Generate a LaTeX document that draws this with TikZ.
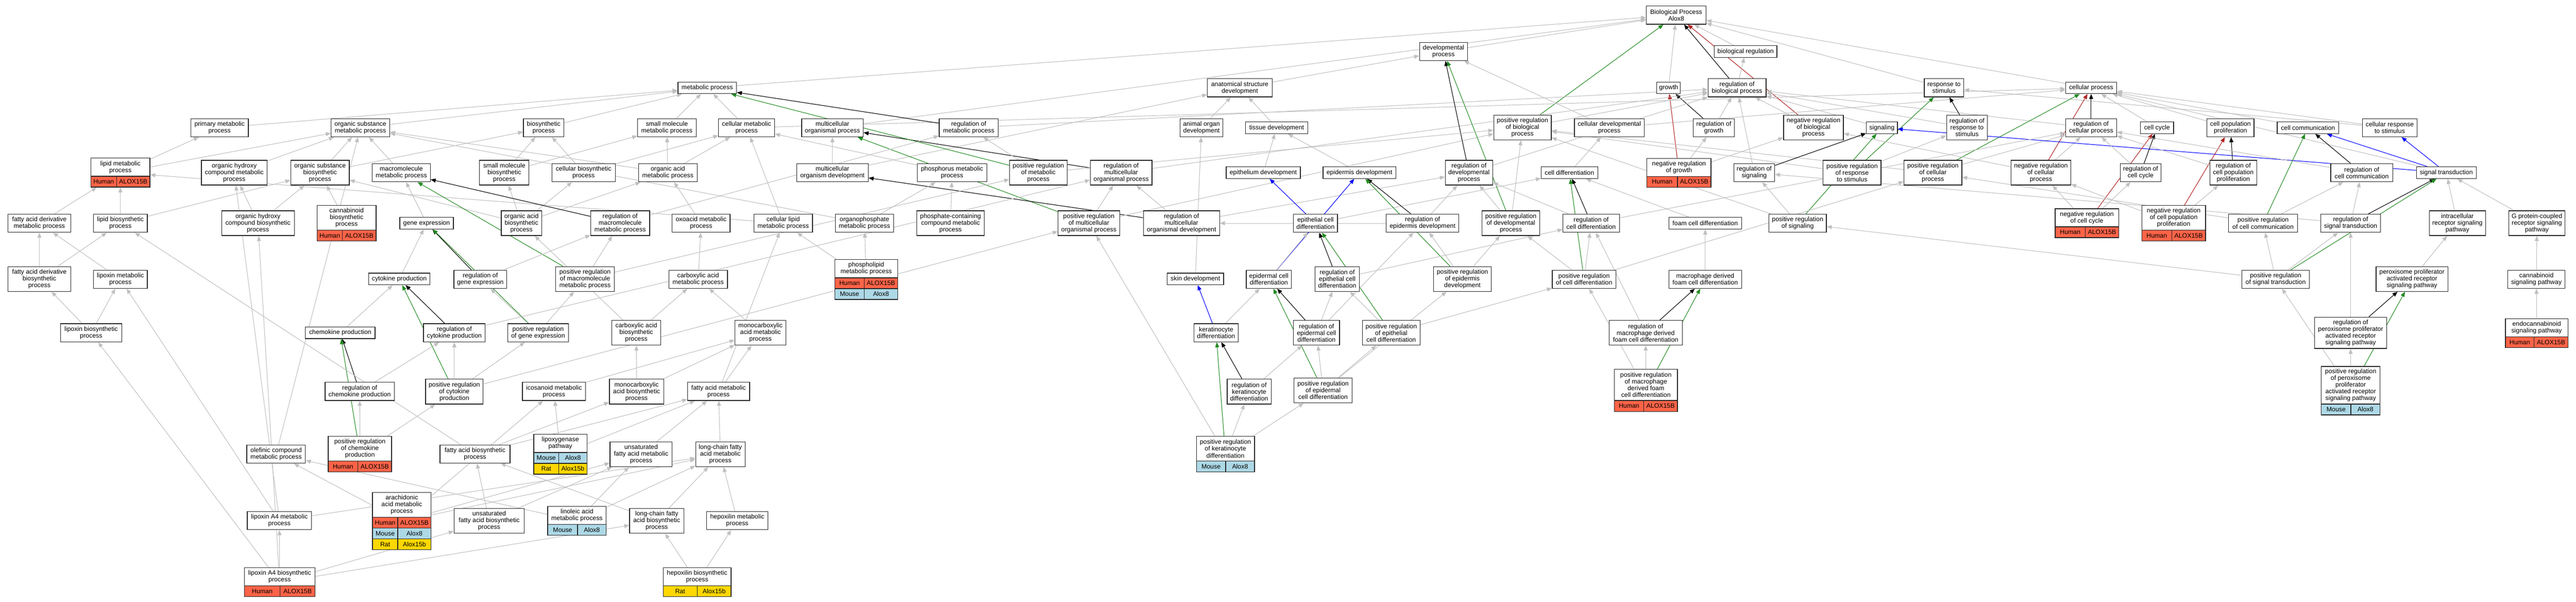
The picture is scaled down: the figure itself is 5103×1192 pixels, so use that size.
\documentclass[tikz,border=0pt]{standalone}
\usepackage{fontspec}
\setmainfont{Liberation Sans}
\usetikzlibrary{arrows.meta}
\definecolor{eg}{RGB}{192,192,192}
\definecolor{egreen}{RGB}{34,139,34}
\definecolor{ered}{RGB}{178,34,34}
\definecolor{eblue}{RGB}{0,0,255}
\definecolor{hum}{RGB}{255,99,71}
\definecolor{mou}{RGB}{173,216,230}
\definecolor{rat}{RGB}{255,215,0}
\pgfdeclarelayer{bg}
\pgfdeclarelayer{edges}
\pgfsetlayers{bg,edges,main}
\tikzset{
 bx/.style={rectangle, draw=black!85, line width=1.3pt, fill=white, inner sep=0pt, align=center, font=\fontsize{12.6}{13.3}\selectfont},
 lbl/.style={inner sep=0pt, align=center, font=\fontsize{12.6}{13.3}\selectfont},
 cell/.style={draw=black!85, line width=1.3pt},
 ed/.style={-{Triangle[length=10pt,width=8pt]}, line width=1.1pt},
 gy/.style={ed, draw=eg},
 bk/.style={ed, draw=black},
 gn/.style={ed, draw=egreen},
 rd/.style={ed, draw=ered},
 bl/.style={ed, draw=eblue},
}
\newcommand\ND[6]{\node[bx, minimum width=#4, minimum height=#5] (#1) at (#2,#3) {#6};}
\newcommand\SN[7]{%
 \node[bx, minimum width=#4, minimum height={#5+#6*21.5}] (#1) at ({#2},{#3+(#5+#6*21.5)/2}) {};
 \node[lbl] (#1-t) at ({#2},{#3+#5/2}) {#7};}
\newcommand\SR[9]{%
 \draw[cell, fill=#7] (#3,#6) rectangle (#4,{#6+21.5});
 \draw[cell, fill=#7] (#4,#6) rectangle (#5,{#6+21.5});
 \node[lbl] (#1-#2a) at ({(#3+#4)/2},{#6+10.75}) {#8};
 \node[lbl] (#1-#2b) at ({(#4+#5)/2},{#6+10.75}) {#9};}
\newcommand\EG[2]{\draw[gy] (#1) -- (#2);}
\newcommand\EK[2]{\draw[bk] (#1) -- (#2);}
\newcommand\EN[2]{\draw[gn] (#1) -- (#2);}
\newcommand\ER[2]{\draw[rd] (#1) -- (#2);}
\newcommand\EB[2]{\draw[bl] (#1) -- (#2);}
\begin{document}
\begin{tikzpicture}[x=1pt,y=-1pt]
\useasboundingbox (0,0) rectangle (5103,1192);
\begin{pgfonlayer}{bg}
\fill[white] (0,0) rectangle (5103,1192);
\end{pgfonlayer}
% ---------- nodes ----------
\ND{bp}{3320.5}{30}{118.5}{36}{Biological Process\\Alox8}
\ND{dev}{2859.5}{102}{95}{36}{developmental\\process}
\ND{bioreg}{3458}{102}{124}{23}{biological regulation}
\ND{met}{1401}{174}{116}{23}{metabolic process}
\ND{asd}{2456}{174}{128}{36}{anatomical structure\\development}
\ND{growth}{3305.5}{174}{47}{23}{growth}
\ND{regbio}{3441}{174}{115}{36}{regulation of\\biological process}
\ND{resp}{3851}{174}{78}{36}{response to\\stimulus}
\ND{cellp}{4142.5}{174}{101}{23}{cellular process}
% row 4
\ND{primet}{435}{253}{114}{36}{primary metabolic\\process}
\ND{osm}{714}{253}{116}{36}{organic substance\\metabolic process}
\ND{bios}{1077}{253}{80}{36}{biosynthetic\\process}
\ND{smm}{1321}{253}{116}{36}{small molecule\\metabolic process}
\ND{cmet}{1479}{253}{111}{36}{cellular metabolic\\process}
\ND{mop}{1649}{253}{122}{36}{multicellular\\organismal process}
\ND{regmet}{1919}{253}{117}{36}{regulation of\\metabolic process}
\ND{aod}{2380}{253}{84}{36}{animal organ\\development}
\ND{tissue}{2529}{253}{124}{23}{tissue development}
\ND{prbio}{3016}{252.5}{114}{49}{positive regulation\\of biological\\process}
\ND{cdev}{3188}{253}{138}{36}{cellular developmental\\process}
\ND{reggrowth}{3395}{253}{81}{36}{regulation of\\growth}
\ND{nrbio}{3592.5}{252.5}{118.5}{49}{negative regulation\\of biological\\process}
\ND{signaling}{3728}{253}{61.4}{23}{signaling}
\ND{regresp}{3896.5}{252.5}{81}{49}{regulation of\\response to\\stimulus}
\ND{regcell}{4142.5}{253}{101}{36}{regulation of\\cellular process}
\ND{cellcycle}{4273}{253}{65.5}{23}{cell cycle}
\ND{cpp}{4418.5}{253}{93}{36}{cell population\\proliferation}
\ND{ccomm}{4572}{253}{122}{23}{cell communication}
\ND{crs}{4734}{253}{108}{36}{cellular response\\to stimulus}
% row 5
\SN{lipidmet}{238.5}{313}{117}{36}{1}{lipid metabolic\\process}
\SR{lipidmet}{1}{180}{231}{297}{349}{hum}{Human}{ALOX15B}
\ND{ohcm}{464}{342}{130}{49}{organic hydroxy\\compound metabolic\\process}
\ND{osb}{634}{342}{116}{49}{organic substance\\biosynthetic\\process}
\ND{macro}{795}{342}{115}{36}{macromolecule\\metabolic process}
\ND{smb}{999}{342}{98}{49}{small molecule\\biosynthetic\\process}
\ND{cbios}{1156}{342}{125.6}{36}{cellular biosynthetic\\process}
\ND{oam}{1323}{342}{116}{36}{organic acid\\metabolic process}
\ND{mod}{1649}{342}{142}{36}{multicellular\\organism development}
\ND{phosm}{1886}{342}{137.6}{36}{phosphorus metabolic\\process}
\ND{prmet}{2057}{342}{114}{49}{positive regulation\\of metabolic\\process}
\ND{regmop}{2221}{342}{122}{49}{regulation of\\multicellular\\organismal process}
\ND{epith}{2502.5}{342}{147}{23}{epithelium development}
\ND{epid}{2693}{342}{144}{23}{epidermis development}
\ND{regdev}{2910}{342}{94}{49}{regulation of\\developmental\\process}
\ND{celldiff}{3109}{342}{112}{23}{cell differentiation}
\SN{nrgrowth}{3326}{313.6}{126.7}{35.6}{1}{negative regulation\\of growth}
\SR{nrgrowth}{1}{3262.6}{3323}{3389.3}{349.2}{hum}{Human}{ALOX15B}
\ND{regsig}{3475}{342}{81}{36}{regulation of\\signaling}
\ND{prresp}{3669}{342}{114.6}{49}{positive regulation\\of response\\to stimulus}
\ND{prcell}{3829}{342}{114.6}{49}{positive regulation\\of cellular\\process}
\ND{nrcell}{4043}{342}{118.5}{49}{negative regulation\\of cellular\\process}
\ND{regcc}{4240.5}{342}{81}{36}{regulation of\\cell cycle}
\ND{regcpp}{4424}{342}{93}{49}{regulation of\\cell population\\proliferation}
\ND{regcomm}{4678.5}{342}{123}{36}{regulation of\\cell communication}
\ND{st}{4846}{342}{118.5}{23}{signal transduction}
% row 6
\ND{fadm}{78}{442}{124}{36}{fatty acid derivative\\metabolic process}
\ND{lipbio}{238.5}{442}{107}{36}{lipid biosynthetic\\process}
\ND{ohcb}{511}{442}{144}{49}{organic hydroxy\\compound biosynthetic\\process}
\SN{cannab}{686.5}{407}{117}{48.5}{1}{cannabinoid\\biosynthetic\\process}
\SR{cannab}{1}{628}{678.5}{745}{455.5}{hum}{Human}{ALOX15B}
\ND{geneexp}{845}{442}{106}{23}{gene expression}
\ND{oab}{1033}{442}{80}{49}{organic acid\\biosynthetic\\process}
\ND{regmacro}{1228.5}{442}{117}{49}{regulation of\\macromolecule\\metabolic process}
\ND{oxo}{1389}{442}{114.6}{36}{oxoacid metabolic\\process}
\ND{clm}{1551.5}{442}{116}{36}{cellular lipid\\metabolic process}
\ND{orgp}{1712.5}{442}{115}{36}{organophosphate\\metabolic process}
\ND{pccm}{1883}{442}{134}{49}{phosphate-containing\\compound metabolic\\process}
\ND{prmop}{2157}{442}{122}{49}{positive regulation\\of multicellular\\organismal process}
\ND{regmod}{2340.5}{442}{151}{49}{regulation of\\multicellular\\organismal development}
\ND{epcd}{2606}{442}{87}{36}{epithelial cell\\differentiation}
\ND{regepid}{2818}{442}{144}{36}{regulation of\\epidermis development}
\ND{prdev}{2993}{442}{114}{49}{positive regulation\\of developmental\\process}
\ND{regcd}{3152}{442}{112}{36}{regulation of\\cell differentiation}
\ND{foam}{3378}{442}{144}{23}{foam cell differentiation}
\ND{prsig}{3561}{442}{114}{36}{positive regulation\\of signaling}
\SN{nrcc}{4134}{413.4}{126}{35.6}{1}{negative regulation\\of cell cycle}
\SR{nrcc}{1}{4071}{4131}{4197}{449}{hum}{Human}{ALOX15B}
\SN{nrcpp}{4306}{407}{126}{48.6}{1}{negative regulation\\of cell population\\proliferation}
\SR{nrcpp}{1}{4243}{4302}{4369}{455.6}{hum}{Human}{ALOX15B}
\ND{prcomm}{4483}{442}{137}{36}{positive regulation\\of cell communication}
\ND{regst}{4656.5}{442}{118.5}{36}{regulation of\\signal transduction}
\ND{irsp}{4868}{442}{111}{49}{intracellular\\receptor signaling\\pathway}
\ND{gpcr}{5025.5}{442}{111}{49}{G protein-coupled\\receptor signaling\\pathway}
% row 7
\ND{fadb}{78}{552.5}{124}{49}{fatty acid derivative\\biosynthetic\\process}
\ND{lipoxm}{238.5}{553}{107}{36}{lipoxin metabolic\\process}
\ND{cytok}{791}{552.5}{122}{23}{cytokine production}
\ND{reggene}{951.5}{553}{105}{36}{regulation of\\gene expression}
\ND{prmacro}{1159}{552.5}{116}{49}{positive regulation\\of macromolecule\\metabolic process}
\ND{carbm}{1383}{553}{116}{36}{carboxylic acid\\metabolic process}
\SN{phospho}{1716}{513.6}{124.5}{36.4}{2}{phospholipid\\metabolic process}
\SR{phospho}{1}{1653.7}{1712}{1778.3}{550}{hum}{Human}{ALOX15B}
\SR{phospho}{2}{1653.7}{1712}{1778.3}{571.5}{mou}{Mouse}{Alox8}
\ND{skin}{2368}{552.5}{112}{23}{skin development}
\ND{epdcd}{2513.5}{553}{89.4}{36}{epidermal cell\\differentiation}
\ND{regepcd}{2649}{552.5}{88}{49}{regulation of\\epithelial cell\\differentiation}
\ND{prepid}{2897}{552.5}{114}{49}{positive regulation\\of epidermis\\development}
\ND{prcd}{3138}{553}{126}{36}{positive regulation\\of cell differentiation}
\ND{mdfcd}{3378}{553}{144}{36}{macrophage derived\\foam cell differentiation}
\ND{prst}{4508}{553}{134}{36}{positive regulation\\of signal transduction}
\ND{ppar}{4778}{552.5}{142}{49}{peroxisome proliferator\\activated receptor\\signaling pathway}
\ND{cannsig}{5024.5}{553}{113}{36}{cannabinoid\\signaling pathway}
% row 8
\ND{lipoxb}{180.5}{659}{121}{36}{lipoxin biosynthetic\\process}
\ND{chemo}{674}{659}{138}{23}{chemokine production}
\ND{regcyt}{900}{659}{122}{36}{regulation of\\cytokine production}
\ND{prgene}{1066}{659}{120}{36}{positive regulation\\of gene expression}
\ND{carbb}{1260.5}{659}{97}{49}{carboxylic acid\\biosynthetic\\process}
\ND{monom}{1506.5}{659}{101}{49}{monocarboxylic\\acid metabolic\\process}
\ND{kerat}{2409}{659}{88}{36}{keratinocyte\\differentiation}
\ND{regepdcd}{2608}{659}{91}{49}{regulation of\\epidermal cell\\differentiation}
\ND{prepcd}{2756}{659}{114.6}{49}{positive regulation\\of epithelial\\cell differentiation}
\ND{regmdf}{3260}{659}{145}{49}{regulation of\\macrophage derived\\foam cell differentiation}
\ND{regppar}{4656.5}{659}{143}{62}{regulation of\\peroxisome proliferator\\activated receptor\\signaling pathway}
\SN{endocan}{5025}{631}{124}{36}{1}{endocannabinoid\\signaling pathway}
\SR{endocan}{1}{4963}{5020}{5087}{667}{hum}{Human}{ALOX15B}
% row 9
\ND{regchemo}{712.5}{775}{137}{36}{regulation of\\chemokine production}
\ND{prcyt}{900}{775.5}{114}{49}{positive regulation\\of cytokine\\production}
\ND{icos}{1097.5}{775}{125}{36}{icosanoid metabolic\\process}
\ND{monob}{1261}{775.5}{107.5}{49}{monocarboxylic\\acid biosynthetic\\process}
\ND{fam}{1423.5}{775}{123}{36}{fatty acid metabolic\\process}
\ND{regkerat}{2474.5}{775.5}{87}{49}{regulation of\\keratinocyte\\differentiation}
\ND{prepdcd}{2621}{773}{115}{49}{positive regulation\\of epidermal\\cell differentiation}
\SN{prmdf}{3260.5}{731.6}{125}{61.5}{1}{positive regulation\\of macrophage\\derived foam\\cell differentiation}
\SR{prmdf}{1}{3198}{3256}{3323}{793.1}{hum}{Human}{ALOX15B}
\SN{prppar}{4656.6}{725.7}{116}{74.3}{1}{positive regulation\\of peroxisome\\proliferator\\activated receptor\\signaling pathway}
\SR{prppar}{1}{4598.6}{4657}{4714.6}{800}{mou}{Mouse}{Alox8}
% row 10
\SN{prchemo}{713}{864}{125.5}{49}{1}{positive regulation\\of chemokine\\production}
\SR{prchemo}{1}{650.3}{709}{775.7}{913}{hum}{Human}{ALOX15B}
\ND{olef}{547}{899}{116}{36}{olefinic compound\\metabolic process}
\ND{fab}{941}{899}{139}{36}{fatty acid biosynthetic\\process}
\SN{lox}{1110}{860}{105.6}{36}{2}{lipoxygenase\\pathway}
\SR{lox}{1}{1057.2}{1107}{1162.8}{896}{mou}{Mouse}{Alox8}
\SR{lox}{2}{1057.2}{1107}{1162.8}{917.5}{rat}{Rat}{Alox15b}
\ND{ufam}{1270}{899.5}{123.4}{49}{unsaturated\\fatty acid metabolic\\process}
\ND{lcfam}{1427}{899.5}{98}{49}{long-chain fatty\\acid metabolic\\process}
\SN{prkerat}{2427.5}{864}{115}{49}{1}{positive regulation\\of keratinocyte\\differentiation}
\SR{prkerat}{1}{2370}{2428}{2485}{913}{mou}{Mouse}{Alox8}
% row 11
\SN{arach}{796}{975}{116}{49}{3}{arachidonic\\acid metabolic\\process}
\SR{arach}{1}{738}{788}{854}{1024}{hum}{Human}{ALOX15B}
\SR{arach}{2}{738}{788}{854}{1045.5}{mou}{Mouse}{Alox8}
\SR{arach}{3}{738}{788}{854}{1067}{rat}{Rat}{Alox15b}
\ND{lxa4m}{553.5}{1031}{127}{36}{lipoxin A4 metabolic\\process}
\ND{ufab}{969}{1031.5}{139}{49}{unsaturated\\fatty acid biosynthetic\\process}
\SN{linol}{1143}{1003}{116}{35.5}{1}{linoleic acid\\metabolic process}
\SR{linol}{1}{1085}{1144}{1201}{1038.5}{mou}{Mouse}{Alox8}
\ND{lcfab}{1301}{1031.5}{107.5}{49}{long-chain fatty\\acid biosynthetic\\process}
\ND{hepm}{1460.5}{1031}{121}{36}{hepoxilin metabolic\\process}
% row 12
\SN{lxa4b}{554}{1124}{140}{36}{1}{lipoxin A4 biosynthetic\\process}
\SR{lxa4b}{1}{484}{555}{624}{1160}{hum}{Human}{ALOX15B}
\SN{hepb}{1381}{1124}{134.5}{36}{1}{hepoxilin biosynthetic\\process}
\SR{hepb}{1}{1313.7}{1381}{1448.3}{1160}{rat}{Rat}{Alox15b}
% ---------- edges ----------
\begin{pgfonlayer}{edges}
% top level
\EG{met}{bp}\EG{mop}{bp}\EG{dev}{bp}\EG{growth}{bp}\EG{bioreg}{bp}
\EG{resp}{bp}\EG{cellp}{bp}\EG{signaling}{regbio}
\EN{prbio}{bp}\EK{regbio}{bp}\ER{nrbio}{bp}
\EG{asd}{dev}\EG{cdev}{dev}\EG{cdev}{cellp}\EG{regbio}{bioreg}
\EK{reggrowth}{growth}\ER{nrgrowth}{growth}\EG{reggrowth}{regbio}
\EG{nrgrowth}{reggrowth}\EG{nrgrowth}{nrbio}
\EG{prbio}{regbio}\EG{nrbio}{regbio}\EG{regdev}{regbio}\EG{regresp}{regbio}
\EG{regcell}{regbio}\EG{regsig}{regbio}\EG{regmet}{regbio}\EG{regmop}{regbio}
\EK{regresp}{resp}\EN{prresp}{resp}\EG{crs}{resp}
\EK{regcell}{cellp}\EN{prcell}{cellp}\ER{nrcell}{cellp}
\EG{crs}{cellp}\EG{ccomm}{cellp}\EG{cellcycle}{cellp}\EG{cpp}{cellp}\EG{st}{cellp}\EG{cmet}{cellp}
\EG{prcell}{regcell}\EG{prcell}{prbio}\EG{nrcell}{regcell}\EG{nrcell}{nrbio}
\EG{prresp}{regresp}\EG{prresp}{prbio}
\EK{regsig}{signaling}\EN{prsig}{signaling}\EG{prsig}{regsig}\EG{prsig}{prbio}
\EB{st}{signaling}\EB{st}{ccomm}\EB{st}{crs}
\EK{regcc}{cellcycle}\ER{nrcc}{cellcycle}\EG{regcc}{regcell}\EG{nrcc}{regcc}\EG{nrcc}{nrcell}
\EK{regcpp}{cpp}\ER{nrcpp}{cpp}\EG{regcpp}{regcell}\EG{nrcpp}{regcpp}\EG{nrcpp}{nrcell}
\EK{regcomm}{ccomm}\EN{prcomm}{ccomm}\EG{regcomm}{regcell}\EG{prcomm}{regcomm}\EG{prcomm}{prcell}
\EK{regst}{st}\EN{prst}{st}\EG{regst}{regcomm}\EG{regst}{regsig}
\EG{prst}{regst}\EG{prst}{prcomm}\EG{prst}{prsig}
\EG{irsp}{st}\EG{gpcr}{st}\EG{ppar}{irsp}\EG{cannsig}{gpcr}\EG{endocan}{cannsig}
\EK{regppar}{ppar}\EN{prppar}{ppar}\EG{regppar}{regst}\EG{prppar}{regppar}\EG{prppar}{prst}
% development
\EG{mod}{mop}\EG{mod}{asd}\EG{aod}{asd}\EG{tissue}{asd}\EG{epith}{tissue}\EG{epid}{tissue}
\EK{regmop}{mop}\EN{prmop}{mop}\EK{regmod}{mod}
\EG{regmod}{regmop}\EG{regmod}{regdev}\EG{prmop}{regmop}\EG{prmop}{prbio}
\EG{skin}{aod}\EB{kerat}{skin}\EB{epcd}{epith}\EB{epdcd}{epid}
\EG{epdcd}{epcd}\EG{kerat}{epdcd}\EG{epcd}{celldiff}
\EK{regdev}{dev}\EN{prdev}{dev}\EG{prdev}{regdev}\EG{prdev}{prbio}
\EK{regepid}{epid}\EN{prepid}{epid}\EG{regepid}{regdev}\EG{regepid}{regmod}
\EG{prepid}{regepid}\EG{prepid}{prdev}
\EK{regepcd}{epcd}\EN{prepcd}{epcd}\EG{regepcd}{regcd}\EG{prepcd}{regepcd}\EG{prepcd}{prcd}
\EK{regepdcd}{epdcd}\EN{prepdcd}{epdcd}\EG{regepdcd}{regepcd}\EG{regepdcd}{regepid}
\EG{prepdcd}{regepdcd}\EG{prepdcd}{prepcd}\EG{prepdcd}{prepid}
\EK{regkerat}{kerat}\EN{prkerat}{kerat}\EG{regkerat}{regepdcd}
\EG{prkerat}{regkerat}\EG{prkerat}{prepdcd}\EG{prkerat}{prmop}
\EG{celldiff}{cdev}\EK{regcd}{celldiff}\EN{prcd}{celldiff}\EG{foam}{celldiff}
\EG{regcd}{regdev}\EG{regcd}{regcell}\EG{prcd}{regcd}\EG{prcd}{prdev}\EG{prcd}{prcell}
\EG{mdfcd}{foam}\EK{regmdf}{mdfcd}\EN{prmdf}{mdfcd}\EG{regmdf}{regcd}
\EG{prmdf}{regmdf}\EG{prmdf}{prcd}
% metabolism
\EG{primet}{met}\EG{osm}{met}\EG{bios}{met}\EG{smm}{met}\EG{cmet}{met}
\EK{regmet}{met}\EN{prmet}{met}\EG{prmet}{regmet}\EG{prmet}{prbio}
\EG{lipidmet}{primet}\EG{lipidmet}{osm}\EG{olef}{osm}\EG{ohcm}{osm}\EG{osb}{osm}\EG{osb}{bios}
\EG{macro}{osm}\EG{oam}{osm}\EG{smb}{smm}\EG{smb}{bios}\EG{cbios}{bios}\EG{cbios}{cmet}
\EG{oam}{smm}\EG{oam}{cmet}\EG{oab}{smb}\EG{oab}{cbios}\EG{oab}{oam}\EG{oab}{osb}
\EG{oxo}{oam}\EG{clm}{cmet}\EG{clm}{lipidmet}\EG{orgp}{phosm}\EG{orgp}{osm}
\EG{phospho}{orgp}\EG{phospho}{clm}\EG{pccm}{phosm}\EG{phosm}{cmet}
\EK{regmacro}{macro}\EN{prmacro}{macro}\EG{regmacro}{regmet}
\EG{prmacro}{regmacro}\EG{prmacro}{prmet}
\EK{reggene}{geneexp}\EN{prgene}{geneexp}\EG{reggene}{regmacro}
\EG{prgene}{reggene}\EG{prgene}{prmacro}\EG{geneexp}{macro}
\EG{cytok}{geneexp}\EK{regcyt}{cytok}\EN{prcyt}{cytok}\EG{regcyt}{regmop}
\EG{prcyt}{regcyt}\EG{prcyt}{prgene}\EG{prcyt}{prmop}
\EG{chemo}{cytok}\EK{regchemo}{chemo}\EN{prchemo}{chemo}\EG{regchemo}{regcyt}
\EG{prchemo}{regchemo}\EG{prchemo}{prcyt}
\EG{carbm}{oxo}\EG{monom}{carbm}\EG{carbb}{carbm}\EG{carbb}{oab}
\EG{monob}{carbb}\EG{monob}{monom}\EG{fam}{monom}\EG{fam}{clm}\EG{icos}{monom}
\EG{fab}{fam}\EG{fab}{monob}\EG{fab}{lipbio}\EG{lox}{icos}\EG{lox}{fam}
\EG{ufam}{fam}\EG{lcfam}{fam}
\EG{arach}{icos}\EG{arach}{olef}\EG{arach}{ufam}\EG{arach}{lcfam}
\EG{ufab}{fab}\EG{ufab}{ufam}\EG{linol}{olef}\EG{linol}{ufam}\EG{linol}{lcfam}
\EG{lcfab}{fab}\EG{lcfab}{lcfam}\EG{hepm}{lcfam}\EG{hepb}{hepm}\EG{hepb}{lcfab}
\EG{lxa4b}{lxa4m}\EG{lxa4b}{lipoxb}\EG{lxa4b}{ohcb}\EG{lxa4b}{lcfab}\EG{lxa4b}{ufab}
\EG{lxa4m}{lipoxm}\EG{lxa4m}{ohcm}\EG{lxa4m}{lcfam}
\EG{lipoxb}{lipoxm}\EG{lipoxb}{fadb}\EG{lipoxm}{fadm}
\EG{fadb}{fadm}\EG{fadb}{lipbio}\EG{fadm}{lipidmet}
\EG{lipbio}{lipidmet}\EG{lipbio}{osb}\EG{ohcb}{ohcm}\EG{ohcb}{osb}\EG{cannab}{osb}
\end{pgfonlayer}
\end{tikzpicture}
\end{document}
